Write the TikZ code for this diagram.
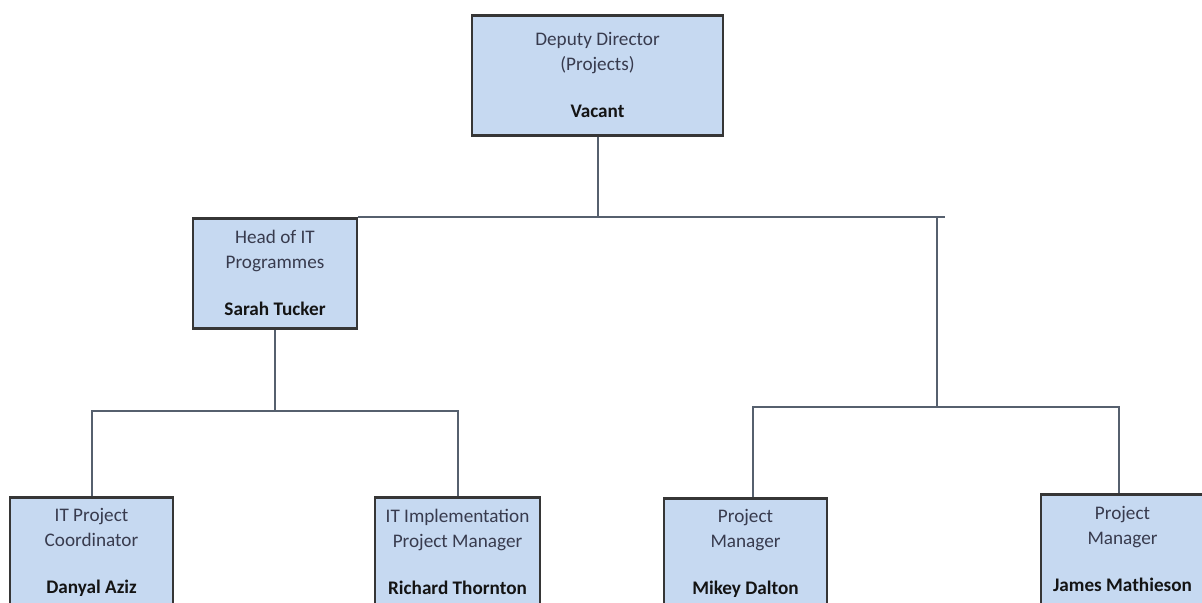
\documentclass[tikz,border=0pt]{standalone}
\usepackage{fontspec}
\setmainfont{Carlito}
\usetikzlibrary{calc}

\definecolor{boxfill}{HTML}{C6D9F1}
\definecolor{boxline}{HTML}{363636}
\definecolor{linkline}{HTML}{56606E}
\definecolor{roletext}{HTML}{383B4E}
\definecolor{nametext}{HTML}{141414}

\newcommand{\postname}[1]{\textcolor{nametext}{\textbf{#1}}}

\tikzset{
  post/.style={draw=boxline, line width=1.4pt, fill=boxfill, anchor=north,
    align=center, text=roletext, inner sep=2pt, minimum height=55pt,
    font=\fontsize{9.6}{12.5}\selectfont},
  link/.style={draw=linkline, line width=1pt},
}

\begin{document}
\begin{tikzpicture}[x=0.5pt, y=-0.5pt]
  \clip (0,0) rectangle (1202,603);

  % boxes
  \node[post, minimum width=125.5pt, minimum height=60pt] (deputy) at (597.5,14)
    {Deputy Director\\(Projects)\\[11pt]\postname{Vacant}};
  \node[post, minimum width=82pt] (head) at (275,217)
    {Head of IT\\Programmes\\[11pt]\postname{Sarah Tucker}};
  \node[post, minimum width=81.5pt] (coord) at (91.5,496)
    {IT Project\\Coordinator\\[11pt]\postname{Danyal Aziz}};
  \node[post, minimum width=82.5pt] (impl) at (457.5,496)
    {IT Implementation\\Project Manager\\[11pt]\postname{Richard Thornton}};
  \node[post, minimum width=81.5pt] (mikey) at (745.5,497)
    {Project\\Manager\\[11pt]\postname{Mikey Dalton}};
  \node[post, minimum width=81.5pt] (james) at (1122.5,493)
    {Project\\Manager\\[11pt]\postname{James Mathieson}};

  % bus points
  \coordinate (busE) at (head.north east -| 945,0);
  \coordinate (rdrop) at (head.north east -| 937,0);
  \coordinate (rbus) at (937,407);
  \coordinate (mj) at (753,407);
  \coordinate (jm) at (1119,407);
  \coordinate (lbus) at (275,411);

  \draw[link] (deputy.south) -- (deputy.south |- head.north);
  \draw[link] (head.north east) -- (busE);
  \draw[link] (rdrop) -- (rbus);
  \draw[link] (head.south) -- (lbus);
  \draw[link] (coord.north) |- (lbus) -| (impl.north);
  \draw[link] (mikey.north -| mj) -- (mj) -- (jm) -- (james.north -| jm);
\end{tikzpicture}
\end{document}
